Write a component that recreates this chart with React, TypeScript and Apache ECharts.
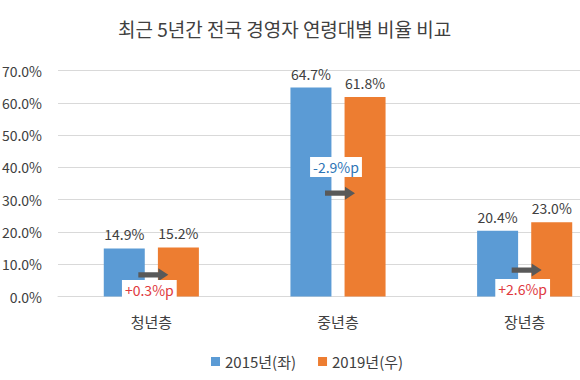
import React, { useEffect, useRef } from "react";
import * as echarts from "echarts";

const categories = ["청년층", "중년층", "장년층"];
const series2015 = [14.9, 64.7, 20.4];
const series2019 = [15.2, 61.8, 23.0];
const yTicks = { min: 0, max: 70, interval: 10 };
// vertical level (in axis units) where each change annotation sits
const arrowLevel = [6.7, 32.0, 8.2];
const changeLabelLevel = [2.0, 40.1, 2.3];

const FONT = "'Noto Sans CJK KR', 'Noto Sans', sans-serif";

export default function App() {
  const ref = useRef<HTMLDivElement>(null);
  useEffect(() => {
    if (!ref.current) return;
    const chart = echarts.init(ref.current, undefined, { renderer: "svg" });
    const changes = categories.map((_, i) => [
      i,
      arrowLevel[i],
      changeLabelLevel[i],
      Math.round((series2019[i] - series2015[i]) * 10) / 10,
    ]);
    chart.setOption({
      animation: false,
      backgroundColor: "#ffffff",
      textStyle: { fontFamily: FONT },
      title: {
        text: "최근 5년간 전국 경영자 연령대별 비율 비교",
        left: 113,
        top: 14,
        textStyle: { fontFamily: FONT, fontSize: 19, fontWeight: "normal", color: "#404040" },
      },
      legend: {
        left: 206,
        top: 349,
        itemWidth: 9,
        itemHeight: 9,
        itemGap: 22,
        icon: "rect",
        textStyle: { fontFamily: FONT, fontSize: 15, color: "#404040" },
        data: ["2015년(좌)", "2019년(우)"],
      },
      grid: {
        left: 58,
        top: 70.5,
        width: 560,
        height: 226,
        outerBoundsMode: "none",
        containLabel: false,
      },
      xAxis: {
        type: "category",
        data: categories,
        axisTick: { show: false },
        axisLine: { lineStyle: { color: "#d9d9d9" } },
        axisLabel: { fontFamily: FONT, fontSize: 15, color: "#404040", margin: 17 },
      },
      yAxis: {
        type: "value",
        min: yTicks.min,
        max: yTicks.max,
        interval: yTicks.interval,
        axisLine: { show: false },
        axisTick: { show: false },
        splitLine: { lineStyle: { color: "#d9d9d9" } },
        axisLabel: {
          fontFamily: FONT,
          fontSize: 14,
          color: "#404040",
          margin: 16,
          formatter: (v: number) => v.toFixed(1) + "%",
        },
      },
      series: [
        {
          name: "2015년(좌)",
          type: "bar",
          data: series2015,
          barWidth: 41,
          barGap: "32%",
          itemStyle: { color: "#5b9bd5" },
          label: {
            show: true,
            position: "top",
            distance: 7,
            fontFamily: FONT,
            fontSize: 14,
            color: "#404040",
            formatter: (p: any) => p.value.toFixed(1) + "%",
          },
        },
        {
          name: "2019년(우)",
          type: "bar",
          data: series2019,
          barWidth: 41,
          itemStyle: { color: "#ed7d31" },
          label: {
            show: true,
            position: "top",
            distance: 7,
            fontFamily: FONT,
            fontSize: 14,
            color: "#404040",
            formatter: (p: any) => p.value.toFixed(1) + "%",
          },
        },
        {
          type: "custom",
          z: 10,
          silent: true,
          data: changes,
          renderItem: (params: any, api: any) => {
            const idx = api.value(0);
            const a = api.coord([idx, api.value(1)]);
            const t = api.coord([idx, api.value(2)]);
            const diff = api.value(3) as number;
            const x0 = a[0] - 13;
            const x1 = a[0] + 17;
            const headLen = 10;
            const shaft = 2.6;
            const head = 6.5;
            const y = a[1];
            const sign = diff >= 0 ? "+" : "";
            return {
              type: "group",
              children: [
                {
                  type: "polygon",
                  shape: {
                    points: [
                      [x0, y - shaft],
                      [x1 - headLen, y - shaft],
                      [x1 - headLen, y - head],
                      [x1, y],
                      [x1 - headLen, y + head],
                      [x1 - headLen, y + shaft],
                      [x0, y + shaft],
                    ],
                  },
                  style: { fill: "#595959" },
                },
                {
                  type: "text",
                  x: t[0] - 2,
                  y: t[1],
                  style: {
                    text: sign + diff.toFixed(1) + "%p",
                    fontFamily: FONT,
                    fontSize: 14,
                    fill: diff >= 0 ? "#e0393e" : "#2e75b6",
                    align: "center",
                    verticalAlign: "middle",
                    backgroundColor: "#ffffff",
                    padding: [3, 3, 3, 3],
                  },
                },
              ],
            };
          },
        },
      ],
    });
    return () => chart.dispose();
  }, []);
  return (
    <div
      ref={ref}
      style={{ position: "fixed", left: 0, top: 0, width: 580, height: 380 }}
    />
  );
}
